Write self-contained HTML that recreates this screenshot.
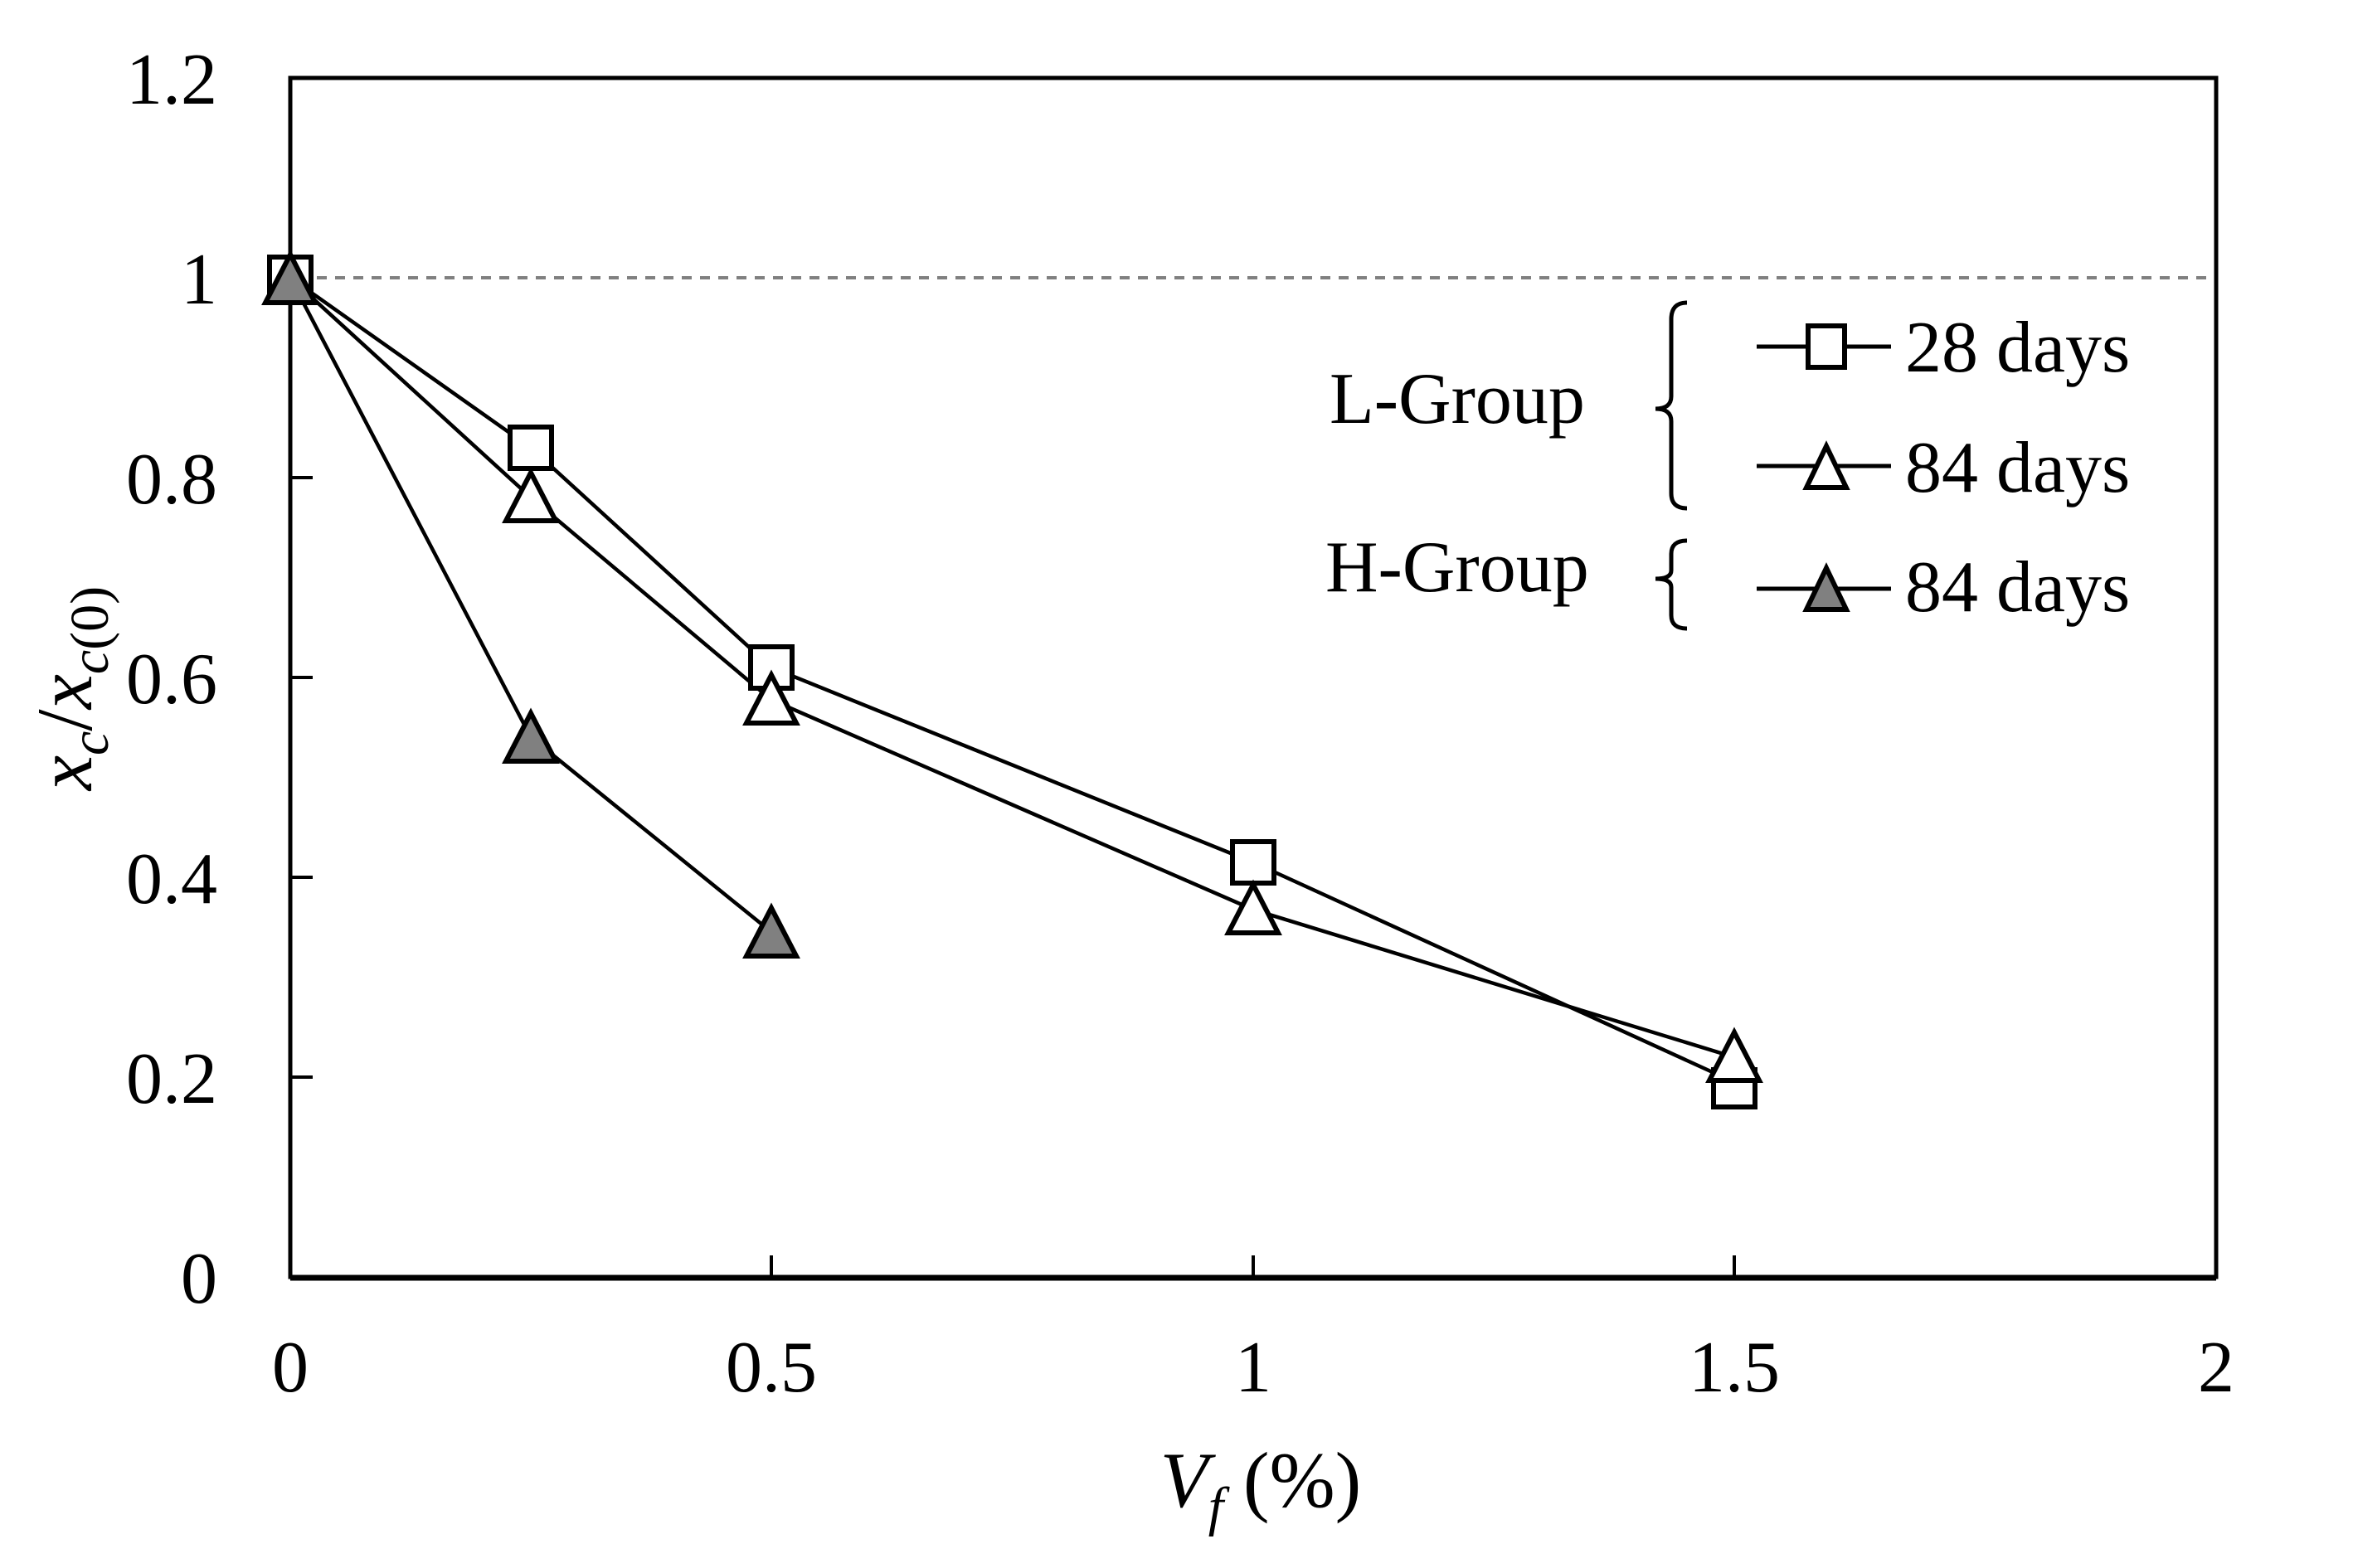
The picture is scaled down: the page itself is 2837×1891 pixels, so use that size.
<!DOCTYPE html>
<html><head><meta charset="utf-8"><style>body{margin:0;background:#fff}svg{display:block}</style></head>
<body>
<svg width="2837" height="1891" viewBox="0 0 2837 1891" xmlns="http://www.w3.org/2000/svg" font-family="Liberation Serif, serif">
<rect width="2837" height="1891" fill="#fff"/>
<line x1="360" y1="335" x2="2672" y2="335" stroke="#808080" stroke-width="4" stroke-dasharray="12,10"/>
<rect x="350" y="94" width="2322" height="1446" fill="none" stroke="#000" stroke-width="5"/>
<line x1="350" y1="1541" x2="2672" y2="1541" stroke="#000" stroke-width="7"/>
<g stroke="#000" stroke-width="4">
<line x1="350" y1="1299" x2="377" y2="1299"/><line x1="350" y1="1058" x2="377" y2="1058"/>
<line x1="350" y1="817" x2="377" y2="817"/><line x1="350" y1="576" x2="377" y2="576"/>
<line x1="350" y1="335" x2="377" y2="335"/>
<line x1="930" y1="1540" x2="930" y2="1514"/><line x1="1511" y1="1540" x2="1511" y2="1514"/><line x1="2091" y1="1540" x2="2091" y2="1514"/>
</g>
<g font-size="88" text-anchor="end" fill="#000">
<text x="262" y="125">1.2</text><text x="262" y="366">1</text><text x="262" y="607">0.8</text>
<text x="262" y="848">0.6</text><text x="262" y="1089">0.4</text><text x="262" y="1330">0.2</text><text x="262" y="1571">0</text>
</g>
<g font-size="88" text-anchor="middle" fill="#000">
<text x="350" y="1678">0</text><text x="930" y="1678">0.5</text><text x="1511" y="1678">1</text>
<text x="2091" y="1678">1.5</text><text x="2672" y="1678">2</text>
</g>
<text x="1520" y="1817" font-size="95" text-anchor="middle"><tspan font-style="italic">V</tspan><tspan font-style="italic" font-size="66" dy="22">f</tspan><tspan dy="-22"> (%)</tspan></text>
<text transform="translate(110,830) rotate(-90)" font-size="95" text-anchor="middle"><tspan font-style="italic">x</tspan><tspan font-style="italic" font-size="66" dy="20">c</tspan><tspan dy="-20">/</tspan><tspan font-style="italic">x</tspan><tspan font-style="italic" font-size="66" dy="20">c</tspan><tspan font-size="66">(0)</tspan></text>
<g fill="none" stroke="#000" stroke-width="4.5">
<polyline points="350,335 640,540 930,805 1511,1040 2091,1305"/>
<polyline points="350,335 640,600 930,844 1511,1097 2091,1275"/>
<polyline points="350,335 640,889 930,1124"/>
</g>
<g stroke="#000" stroke-width="6" fill="#fff">
<rect x="325" y="310" width="50" height="50"/>
<rect x="615" y="515" width="50" height="50"/>
<rect x="905" y="780" width="50" height="50"/>
<rect x="1486" y="1015" width="50" height="50"/>
<rect x="2066" y="1290" width="50" height="45"/>
<polygon points="640,570 670,628 610,628"/>
<polygon points="930,814 960,872 900,872"/>
<polygon points="1511,1067 1541,1125 1481,1125"/>
<polygon points="2091,1245 2121,1303 2061,1303"/>
<g fill="#808080">
<polygon points="350,307 380,365 320,365"/>
<polygon points="640,860 670,918 610,918"/>
<polygon points="930,1095 960,1153 900,1153"/>
</g>
</g>
<g font-size="88" fill="#000">
<text x="1603" y="510">L-Group</text>
<text x="1598" y="713">H-Group</text>
<text x="2297" y="448">28 days</text>
<text x="2297" y="593">84 days</text>
<text x="2297" y="737">84 days</text>
</g>
<g fill="none" stroke="#000" stroke-width="5">
<path d="M2034,365 Q2015,365 2015,385 L2015,478 Q2015,493 1996,493 Q2015,493 2015,508 L2015,595 Q2015,613 2034,613"/>
<path d="M2034,652 Q2015,652 2015,668 L2015,688 Q2015,698 1996,698 Q2015,698 2015,708 L2015,742 Q2015,758 2034,758"/>
<line x1="2118" y1="418" x2="2280" y2="418"/>
<line x1="2118" y1="562" x2="2280" y2="562"/>
<line x1="2118" y1="710" x2="2280" y2="710"/>
</g>
<g stroke="#000" stroke-width="6" fill="#fff">
<rect x="2180" y="393" width="44" height="50"/>
<polygon points="2202,538 2226,588 2178,588"/>
<polygon points="2202,685 2226,735 2178,735" fill="#808080"/>
</g>
</svg>
</body></html>
